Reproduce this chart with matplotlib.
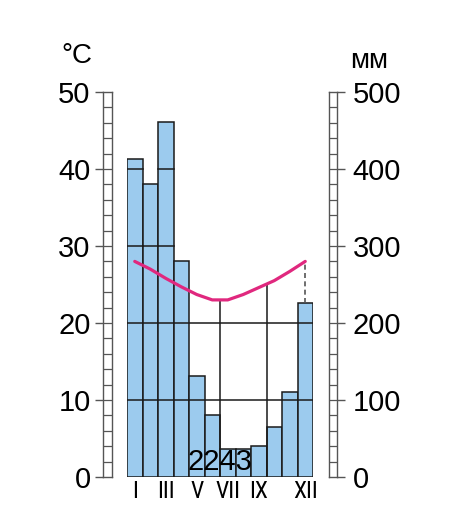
import numpy as np
import matplotlib
matplotlib.use("Agg")
import matplotlib.pyplot as plt

plt.rcParams['font.family'] = ['Liberation Sans', 'DejaVu Sans']
roman_font = ['Roboto Condensed', 'Liberation Sans Narrow', 'Liberation Sans', 'DejaVu Sans']

# monthly data
months = ['I', 'II', 'III', 'IV', 'V', 'VI', 'VII', 'VIII', 'IX', 'X', 'XI', 'XII']
precip_mm = [413, 380, 461, 281, 131, 80, 37, 37, 40, 65, 110, 226]
temp_c = [28.0, 27.0, 25.8, 24.7, 23.7, 23.0, 23.0, 23.7, 24.6, 25.5, 26.7, 28.0]
annual_total = "2243"
shown_months = ['I', 'III', 'V', 'VII', 'IX', 'XII']
temp_ticks = [0, 10, 20, 30, 40, 50]
precip_ticks = [0, 100, 200, 300, 400, 500]
full_grid_mm = [100, 200]
bar_grid_mm = [300, 400]
season_marks = [6, 9]  # month boundaries with a vertical line up to the curve

bar_col = '#9ccbee'
line_col = '#e0287e'
edge_col = '#1a1a1a'
strip_col = '#555555'

W, H = 476, 524
fig = plt.figure(figsize=(W / 100, H / 100), dpi=100)

def fx(px):
    return px / W

def fy(px):
    return 1 - px / H

top, bottom = 92, 477
ax = fig.add_axes([fx(127), fy(bottom), fx(313) - fx(127), fy(top) - fy(bottom)])
ax.set_xlim(0, 12)
ax.set_ylim(0, 50)
for s in ax.spines.values():
    s.set_visible(False)
ax.set_yticks([])

x = np.arange(12) + 0.5
p = np.array(precip_mm) / 10.0  # 10 mm = 1 degC
t = np.array(temp_c)

ax.bar(x, p, width=1.0, color=bar_col, edgecolor=edge_col, linewidth=1.1, zorder=2)

# grid lines: full width for the low levels, only inside the bars for the high ones
for lv in full_grid_mm:
    ax.axhline(lv / 10, color=edge_col, lw=1.1, zorder=3)
for lv in bar_grid_mm:
    for xi, pi in zip(x, p):
        if pi > lv / 10:
            ax.plot([xi - 0.5, xi + 0.5], [lv / 10, lv / 10], color=edge_col, lw=1.1, zorder=3)

for b in season_marks:
    ax.plot([b, b], [0, np.interp(b, x, t)], color=edge_col, lw=1.1, zorder=3)

# dashed line from last bar up to the curve
ax.plot([x[-1], x[-1]], [p[-1], t[-1]], color='#555555', lw=1.2, ls=(0, (3, 2)), zorder=3)

ax.plot(x, t, color=line_col, lw=2.3, zorder=5, solid_capstyle='round')

ax.text(6.0, 2.0, annual_total, ha='center', va='center', fontsize=21, zorder=6)

idx = [months.index(m) for m in shown_months]
ax.set_xticks(x[idx])
ax.set_xticklabels(shown_months, fontsize=17, family=roman_font)
ax.tick_params(axis='x', length=0, pad=2.5)

# scale strips
def strip(left_px, ticks, side, pad):
    sa = fig.add_axes([fx(left_px), fy(bottom), 8.8 / W, fy(top) - fy(bottom)])
    sa.set_xlim(0, 1)
    sa.set_ylim(0, 50)
    sa.set_xticks([])
    sa.hlines(np.arange(2, 50, 2), 0, 1, color=strip_col, lw=0.9)
    for s in sa.spines.values():
        s.set_color(strip_col)
        s.set_linewidth(1.0)
    sa.set_yticks(np.linspace(0, 50, len(ticks)))
    sa.set_yticklabels([str(v) for v in ticks], fontsize=21)
    if side == 'right':
        sa.yaxis.tick_right()
    sa.tick_params(axis='y', length=6, width=1.0, color=strip_col, pad=pad, direction='out')
    return sa

strip(103.3, temp_ticks, 'left', 3.2)
strip(328.5, precip_ticks, 'right', 5)

fig.text(fx(77), fy(56), '°C', ha='center', va='center', fontsize=20)
fig.text(fx(369), fy(61), 'мм', ha='center', va='center', fontsize=20)

fig.savefig('out.png', dpi=100)
